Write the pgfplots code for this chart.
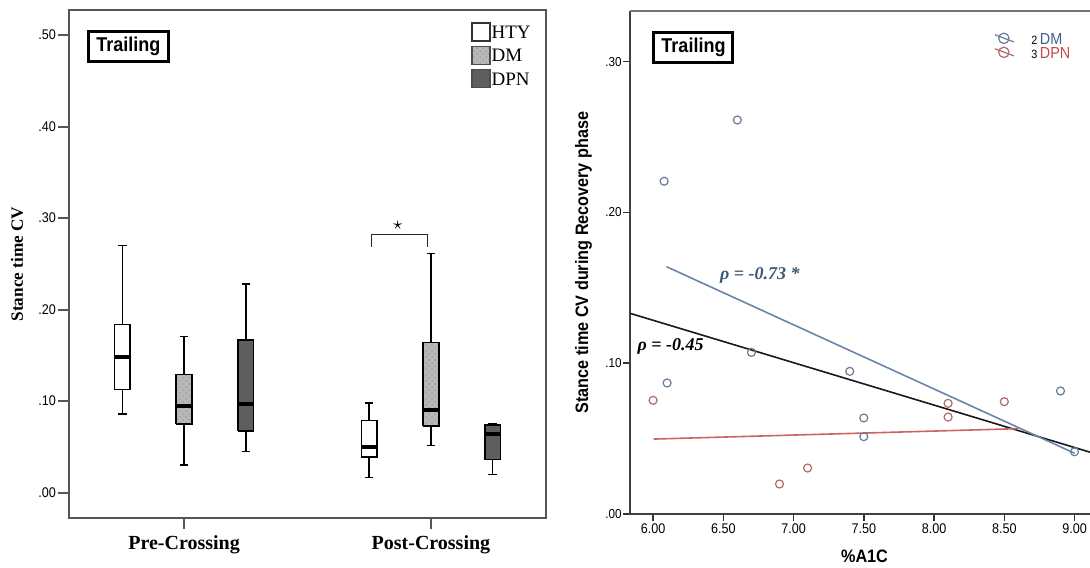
\documentclass[border=0pt]{standalone}
\usepackage{fontspec}
\setmainfont{Liberation Serif}
\setsansfont{Liberation Sans}[FakeStretch=0.9]
\usepackage{pgfplots}
\pgfplotsset{compat=1.18}
\usetikzlibrary{patterns}
\definecolor{framegray}{HTML}{555555}
\definecolor{dmmark}{HTML}{6A7C96}
\definecolor{dpnmark}{HTML}{B06A6A}
\definecolor{dmline}{HTML}{6786A8}
\definecolor{dpnline}{HTML}{C86464}
\definecolor{dmtext}{HTML}{3F5F8F}
\definecolor{dpntext}{HTML}{C24A4A}
\definecolor{rhotext}{HTML}{3A5878}
\definecolor{dpnfill}{HTML}{5E5E5E}
\definecolor{dmfill}{HTML}{B8B8B8}
% box: #1 position, #2 lower whisker, #3 lower quartile, #4 median, #5 upper quartile, #6 upper whisker, #7 fill style
\newcommand{\boxat}[7]{%
  \pgfmathsetmacro\bxl{#1-0.032}\pgfmathsetmacro\bxr{#1+0.032}%
  \pgfmathsetmacro\cxl{#1-0.017}\pgfmathsetmacro\cxr{#1+0.017}%
  \addplot[black, line width=0.75pt] coordinates {(#1,#2) (#1,#3)};
  \addplot[black, line width=0.75pt] coordinates {(#1,#5) (#1,#6)};
  \addplot[black, line width=0.75pt] coordinates {(\cxl,#2) (\cxr,#2)};
  \addplot[black, line width=0.75pt] coordinates {(\cxl,#6) (\cxr,#6)};
  \addplot[draw=black, line width=0.75pt, line join=miter, #7] coordinates {(\bxl,#3) (\bxr,#3) (\bxr,#5) (\bxl,#5) (\bxl,#3)};
  \addplot[black, line width=2pt] coordinates {(\bxl,#4) (\bxr,#4)};
}
\begin{document}
\begin{tikzpicture}[x=1pt,y=1pt]
\useasboundingbox (0,0) rectangle (545,283.5);
% ---------------- left: box plots ----------------
\begin{axis}[
  at={(34.5pt,24.5pt)}, anchor=south west,
  scale only axis, width=238.5pt, height=254pt,
  xmin=0.534, xmax=2.466, ymin=-0.0277, ymax=0.5275,
  axis line style={framegray, line width=1pt},
  xtick={1,2}, xticklabels={Pre-Crossing,Post-Crossing},
  ytick={0,0.1,0.2,0.3,0.4,0.5}, yticklabels={.00,.10,.20,.30,.40,.50},
  tick align=outside, xtick pos=left, ytick pos=left,
  major tick length=5.5pt,
  tick style={framegray, line width=1pt},
  x tick label style={font=\bfseries\fontsize{10}{10}\selectfont, anchor=north, inner sep=0pt, text height=7pt, text depth=0pt, yshift=-3pt},
  y tick label style={font=\sffamily\fontsize{7}{7}\selectfont, inner sep=0.8pt},
  ylabel={\bfseries Stance time CV},
  ylabel style={at={(axis description cs:-0.109,0.5)}, anchor=center, font=\fontsize{8.6}{8.6}\selectfont},
  legend style={at={(0.8428,0.9764)}, anchor=north west, draw=none, fill=none, inner sep=0pt, row sep=2pt,
    font=\fontsize{9.5}{9.5}\selectfont, nodes={inner sep=0.5pt, text height=6.8pt, text depth=0pt}},
  legend cell align=left,
  clip=false,
]
\addlegendimage{legend image code/.code={\draw[black!80, line width=0.6pt, fill=white] (0pt,-4.5pt) rectangle (9pt,4.5pt);}}
\addlegendimage{legend image code/.code={\draw[black!70, line width=0.6pt, fill=dmfill, postaction={pattern=crosshatch dots, pattern color=gray!75}] (0pt,-4.5pt) rectangle (9pt,4.5pt);}}
\addlegendimage{legend image code/.code={\draw[black!70, line width=0.6pt, fill=dpnfill] (0pt,-4.5pt) rectangle (9pt,4.5pt);}}
\legend{HTY,DM,DPN}
% Pre-Crossing: HTY, DM, DPN
\boxat{0.75}{0.0857}{0.1126}{0.148}{0.184}{0.270}{fill=white}
\boxat{1.00}{0.0303}{0.0751}{0.0944}{0.1294}{0.1705}{fill=dmfill, postaction={pattern=crosshatch dots, pattern color=gray!75}}
\boxat{1.25}{0.0452}{0.0674}{0.0966}{0.1669}{0.2278}{fill=dpnfill}
% Post-Crossing: HTY, DM, DPN
\boxat{1.75}{0.0168}{0.0387}{0.0503}{0.0791}{0.098}{fill=white}
\boxat{2.00}{0.0514}{0.0729}{0.0907}{0.1639}{0.2616}{fill=dmfill, postaction={pattern=crosshatch dots, pattern color=gray!75}}
\boxat{2.25}{0.0201}{0.0361}{0.0645}{0.074}{0.0748}{fill=dpnfill}
% significance bracket
\addplot[black!85, line width=0.6pt] coordinates {(1.758,0.269) (1.758,0.282) (1.985,0.282) (1.985,0.269)};
\node[font=\fontsize{9}{9}\selectfont] at (axis cs:1.866,0.292) {$\star$};
\node[draw=black, line width=1.5pt, minimum width=40pt, minimum height=15pt, inner sep=0pt,
  font=\sffamily\bfseries\fontsize{10}{10}\selectfont] at (rel axis cs:0.1243,0.9287) {Trailing};
\end{axis}
% ---------------- right: scatter ----------------
\begin{axis}[
  at={(315pt,26.5pt)}, anchor=south west,
  scale only axis, width=230pt, height=251.5pt,
  xmin=5.836, xmax=9.110, ymin=0, ymax=0.3336,
  axis line style={draw=none},
  xtick={6,6.5,7,7.5,8,8.5,9}, xticklabels={6.00,6.50,7.00,7.50,8.00,8.50,9.00},
  ytick={0,0.1,0.2,0.3}, yticklabels={.00,.10,.20,.30},
  tick align=outside, xtick pos=left, ytick pos=left,
  major tick length=3.5pt,
  tick style={black!80, line width=0.8pt},
  x tick label style={font=\sffamily\fontsize{7}{7}\selectfont, inner sep=1pt},
  y tick label style={font=\sffamily\fontsize{6.5}{6.5}\selectfont, inner sep=0.5pt},
  xlabel={\bfseries\%A1C},
  xlabel style={at={(axis description cs:0.5098,-0.0849)}, anchor=center, font=\sffamily\fontsize{9}{9}\selectfont},
  ylabel={\bfseries Stance time CV during Recovery phase},
  ylabel style={at={(axis description cs:-0.101,0.5)}, anchor=center, font=\sffamily\fontsize{9}{9}\selectfont},
  legend style={at={(0.791,0.958)}, anchor=north west, draw=none, fill=none, inner sep=0pt, row sep=1.2pt,
    font=\sffamily\fontsize{8}{8}\selectfont, nodes={inner sep=0pt, text height=5.7pt, text depth=0pt}},
  legend cell align=left,
  clip=false,
]
\addlegendimage{legend image code/.code={\draw[dmmark, line width=0.6pt] (0pt,1.8pt) -- (9.5pt,-1.8pt); \draw[dmmark, line width=0.6pt] (4.5pt,0pt) circle (2.6pt); \path (18pt,0pt);}}
\addlegendimage{legend image code/.code={\draw[dpnmark, line width=0.6pt] (0pt,1.8pt) -- (9.5pt,-1.8pt); \draw[dpnmark, line width=0.6pt] (4.5pt,0pt) circle (2.6pt); \path (18pt,0pt);}}
\legend{{\fontsize{6}{6}\selectfont\color{black}2}\,\textcolor{dmtext}{DM},{\fontsize{6}{6}\selectfont\color{black}3}\,\textcolor{dpntext}{DPN}}
% frame (left, bottom, top)
\draw[black!75, line width=1pt] (rel axis cs:0,1) -- (rel axis cs:0,0) -- (rel axis cs:1,0);
\draw[black!55, line width=0.8pt] (rel axis cs:0,1) -- (rel axis cs:1,1);
% DM points
\addplot[only marks, mark=o, mark size=2pt, dmmark, mark options={line width=0.6pt}] coordinates {
(6.079,0.2207) (6.60,0.2613) (6.10,0.0869) (6.70,0.1072) (7.40,0.0946) (7.50,0.0637) (7.50,0.0513) (8.90,0.0816) (9.00,0.0413)};
% DPN points
\addplot[only marks, mark=o, mark size=2pt, dpnmark, mark options={line width=0.6pt}] coordinates {
(6.00,0.0754) (6.90,0.0199) (7.10,0.0305) (8.10,0.0734) (8.10,0.0643) (8.50,0.0745)};
% fit lines
\addplot[black!90, line width=0.8pt] coordinates {(5.836,0.1331) (9.110,0.0410)};
\addplot[dmline, line width=0.8pt] coordinates {(6.096,0.1640) (9.00,0.0403)};
\addplot[dpnline, line width=0.8pt] coordinates {(6.004,0.0497) (8.598,0.0566)};
\node[text=rhotext, font=\bfseries\itshape\fontsize{9}{9}\selectfont] at (axis cs:6.76,0.158) {ρ = -0.73 *};
\node[text=black, font=\bfseries\itshape\fontsize{9}{9}\selectfont] at (axis cs:6.125,0.111) {ρ = -0.45};
\node[draw=black, line width=1.5pt, minimum width=39.5pt, minimum height=15pt, inner sep=0pt,
  font=\sffamily\bfseries\fontsize{10}{10}\selectfont] at (rel axis cs:0.138,0.9274) {Trailing};
\end{axis}
\end{tikzpicture}
\end{document}
